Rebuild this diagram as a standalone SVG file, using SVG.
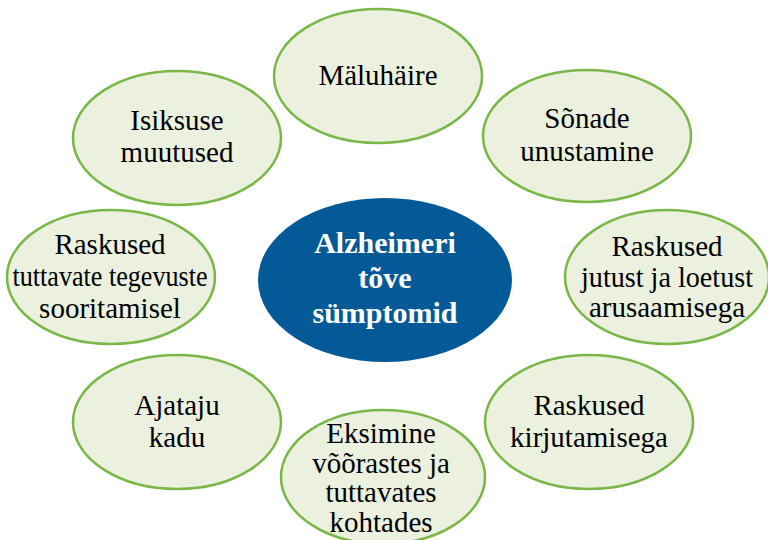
<svg xmlns="http://www.w3.org/2000/svg" width="768" height="540" viewBox="0 0 768 540">
<style>
.n{fill:#ebf1de;stroke:#7ab648;stroke-width:2.5}
.c{fill:#045a97}
.t{font-family:"Liberation Serif","Times New Roman",serif;font-size:29px;fill:#000;text-anchor:middle}
.ct{font-family:"Liberation Serif","Times New Roman",serif;font-size:30px;font-weight:bold;fill:#fff;text-anchor:middle}
</style>
<rect width="768" height="540" fill="#fff"/>
<g id="connectors"></g>
<g id="n1"><ellipse class="n" cx="378" cy="76" rx="104" ry="67"/><text class="t" x="378" y="85">Mäluhäire</text></g>
<g id="n2"><ellipse class="n" cx="587" cy="136" rx="104" ry="66"/><text class="t" x="587" y="128">Sõnade</text><text class="t" x="587" y="161">unustamine</text></g>
<g id="n3"><ellipse class="n" cx="667" cy="277" rx="102" ry="67"/><text class="t" x="667" y="256">Raskused</text><text class="t" x="667" y="287" textLength="172" lengthAdjust="spacingAndGlyphs">jutust ja loetust</text><text class="t" x="667" y="317">arusaamisega</text></g>
<g id="n4"><ellipse class="n" cx="589" cy="422" rx="104" ry="67"/><text class="t" x="589" y="415">Raskused</text><text class="t" x="589" y="447">kirjutamisega</text></g>
<g id="n5"><ellipse class="n" cx="383" cy="477" rx="102" ry="67"/><text class="t" x="381" y="443">Eksimine</text><text class="t" x="381" y="473">võõrastes ja</text><text class="t" x="381" y="502">tuttavates</text><text class="t" x="381" y="532">kohtades</text></g>
<g id="n6"><ellipse class="n" cx="177" cy="422" rx="104" ry="67"/><text class="t" x="177" y="415">Ajataju</text><text class="t" x="177" y="447">kadu</text></g>
<g id="n7"><ellipse class="n" cx="111" cy="277" rx="104" ry="67"/><text class="t" x="110" y="254">Raskused</text><text class="t" x="110" y="286" textLength="195" lengthAdjust="spacingAndGlyphs">tuttavate tegevuste</text><text class="t" x="110" y="318">sooritamisel</text></g>
<g id="n8"><ellipse class="n" cx="177" cy="138" rx="104" ry="67"/><text class="t" x="177" y="130">Isiksuse</text><text class="t" x="177" y="162">muutused</text></g>
<g id="center"><ellipse class="c" cx="385" cy="280" rx="127" ry="82"/><text class="ct" x="385" y="253">Alzheimeri</text><text class="ct" x="385" y="288">tõve</text><text class="ct" x="385" y="323">sümptomid</text></g>
</svg>
